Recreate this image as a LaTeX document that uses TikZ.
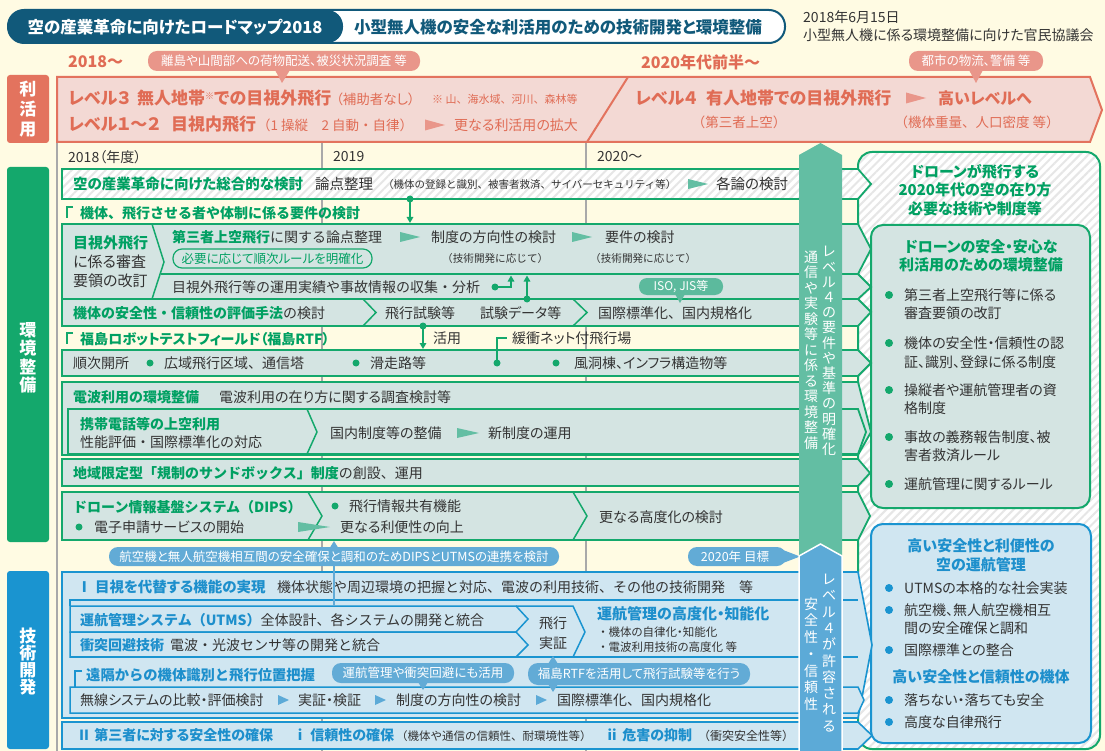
\documentclass[tikz,border=0pt]{standalone}
\usepackage{fontspec}
\setmainfont{Noto Sans CJK JP}[RawFeature={+palt}]
\newfontfamily\np{Noto Sans CJK JP}
\usetikzlibrary{arrows.meta,patterns.meta}
\definecolor{cream}{HTML}{FFFBE3}
\definecolor{titleblue}{HTML}{11597A}
\definecolor{salmon}{HTML}{E3735E}
\definecolor{salmontext}{HTML}{E06C55}
\definecolor{pinkfill}{HTML}{F3D9D4}
\definecolor{bubsalmon}{HTML}{E9968A}
\definecolor{grn}{HTML}{14A86C}
\definecolor{grntext}{HTML}{00A062}
\definecolor{rowfill}{HTML}{D4E4E2}
\definecolor{tealcol}{HTML}{63BEA3}
\definecolor{isoteal}{HTML}{5CBA9D}
\definecolor{dk}{HTML}{333333}
\definecolor{gline}{HTML}{A9A9A9}
\definecolor{blu}{HTML}{1A94D0}
\definecolor{bluetext}{HTML}{1D8FCC}
\definecolor{rowblue}{HTML}{D0E6F1}
\definecolor{bluecol}{HTML}{5CAAD7}
\definecolor{bluebub}{HTML}{62ABD6}
\definecolor{hatch}{HTML}{E6E6E6}
\newcommand\fsz[1]{\fontsize{#1}{#1}\selectfont}
\begin{document}
\begin{tikzpicture}[x=1pt,y=-1pt,
 txt/.style={anchor=west, inner sep=0pt, text=dk, font=\fsz{14}},
 gbold/.style={txt, text=grntext, font=\bfseries\fsz{14}},
 bbold/.style={txt, text=bluetext, font=\bfseries\fsz{14}},
 small/.style={txt, font=\fsz{11}},
 salm/.style={txt, text=salmontext, font=\fsz{13.5}},
 salmb/.style={txt, text=salmontext, font=\bfseries\fsz{17}},
 bubtxt/.style={inner sep=0pt, text=white, font=\fsz{12.5}},
 grnrow/.style={draw=grn, line width=1.8pt, fill=rowfill},
 bluerow/.style={draw=blu, line width=1.6pt, fill=rowblue},
 gsep/.style={draw=grn, line width=1.5pt},
 bsep/.style={draw=blu, line width=1.5pt},
 garr/.style={draw=grn, line width=1.5pt, -{Triangle[length=6pt,width=6.5pt]}},
 vtext/.style={align=center, inner sep=0pt, text=white},
 hatchfill/.style={preaction={fill=white}, pattern={Lines[angle=45,distance=6pt,line width=2pt]}, pattern color=hatch},
 lbl/.style={align=center, inner sep=0pt, text=white, font={\bfseries\fontsize{17}{20}\selectfont}}
]
\path[use as bounding box, fill=cream] (0,0) rectangle (1105,751);

% ---------- title ----------
\draw[titleblue, line width=2pt, fill=white, rounded corners=16pt] (8,10) rectangle (785,43);
\fill[titleblue, rounded corners=16pt] (8,10) rectangle (343,43);
\node[inner sep=0pt, text=white, font=\bfseries\fsz{16.5}] (ttl) at (175,27) {空の産業革命に向けたロードマップ2018};
\node[inner sep=0pt, text=titleblue, font=\bfseries\fsz{16.5}] (ttl2) at (558,27) {小型無人機の安全な利活用のための技術開発と環境整備};
\node[txt] (date) at (803,17) {2018年6月15日};
\node[txt] (org) at (803,35) {小型無人機に係る環境整備に向けた官民協議会};

% ---------- gray year lines ----------
\draw[gline, line width=1.2pt] (57,143) -- (57,751);
\draw[gline, line width=1.2pt] (322,143) -- (322,751);
\draw[gline, line width=1.2pt] (586,143) -- (586,751);

% ---------- 利活用 band ----------
\fill[salmon, rounded corners=3pt] (7,75) rectangle (49,143);
\node[lbl] (lblR) at (28,109) {利\\活\\用};
\draw[salmon, line width=2pt, fill=pinkfill] (57,77) -- (1090,77) -- (1102,110) -- (1090,142) -- (57,142) -- cycle;
\draw[salmon, line width=2pt] (628,77) -- (587,142);
\node[txt, text=salmontext, font=\bfseries\fsz{16}] (y2018) at (68,62) {2018～};
\node[txt, text=salmontext, font=\bfseries\fsz{16}] (y2020s) at (641,62) {2020年代前半～};
\fill[bubsalmon, rounded corners=9pt] (148,51) rectangle (420,71);
\fill[bubsalmon] (275,70) -- (290,70) -- (282,83) -- cycle;
\node[bubtxt] (bub1) at (284,61) {離島や山間部への荷物配送、被災状況調査 等};
\fill[bubsalmon, rounded corners=9pt] (909,51) rectangle (1043,71);
\fill[bubsalmon] (969,70) -- (983,70) -- (976,83) -- cycle;
\node[bubtxt] (bub2) at (976,61) {都市の物流、警備 等};
\node[salmb] (l3a) at (68,98) {レベル３};
\node[salmb] (l3b) at (137,98) {無人地帯\raisebox{5pt}{\fsz{9}※}での目視外飛行};
\node[salm] (l3c) at (336,99) {（補助者なし）};
\node[salm, font=\np\fsz{11}] (l3d) at (432,99) {※ 山、海水域、河川、森林等};
\node[salmb] (l12a) at (68,124) {レベル１～２};
\node[salmb] (l12b) at (171,124) {目視内飛行};
\node[salm, font=\np\fsz{13.5}] (l12c) at (257,125) {（1 操縦　2 自動・自律）};
\fill[bubsalmon] (425,119.5) -- (445,125) -- (425,130.5) -- cycle;
\node[salm, font=\fsz{14}] (l12d) at (454,125) {更なる利活用の拡大};
\node[salmb] (l4a) at (635,98) {レベル４};
\node[salmb] (l4b) at (706,98) {有人地帯での目視外飛行};
\fill[bubsalmon] (906,92.5) -- (926,98) -- (906,103.5) -- cycle;
\node[salmb, font=\bfseries\fsz{16}] (l4c) at (938,98) {高いレベルへ};
\node[salm, anchor=center, font=\np\fsz{13.5}] (l4d) at (739,122) {（第三者上空）};
\node[salm, anchor=center, font=\np\fsz{13.5}] (l4e) at (977,122) {（機体重量、人口密度 等）};

% ---------- year labels ----------
\node[txt] (yr1) at (68,157) {2018（年度）};
\node[txt] (yr2) at (333,157) {2019};
\node[txt] (yr3) at (597,157) {2020～};

% ---------- right panel ----------
\draw[grn, line width=2pt, rounded corners=14pt, hatchfill] (858,152) rectangle (1100,749);
\node[align=center, inner sep=0pt, text=grntext, font={\bfseries\fontsize{15}{18.5}\selectfont}] (goal) at (975,190) {ドローンが飛行する\\2020年代の空の在り方\\必要な技術や制度等};
\draw[grn, line width=2pt, rounded corners=12pt, fill=rowfill] (871,225) rectangle (1090,508);
\node[align=center, inner sep=0pt, text=grntext, font={\bfseries\fontsize{15}{18}\selectfont}] (envT) at (981,256) {ドローンの安全・安心な\\利活用のための環境整備};
\foreach \yy in {295,343,390,437,484} {\fill[grn] (889,\yy) circle (4pt);}
\node[txt] (e1a) at (904,295) {第三者上空飛行等に係る};
\node[txt] (e1b) at (904,313) {審査要領の改訂};
\node[txt] (e2a) at (904,343) {機体の安全性・信頼性の認};
\node[txt] (e2b) at (904,362) {証、識別、登録に係る制度};
\node[txt] (e3a) at (904,390) {操縦者や運航管理者の資};
\node[txt] (e3b) at (904,408) {格制度};
\node[txt] (e4a) at (904,437) {事故の義務報告制度、被};
\node[txt] (e4b) at (904,455) {害者救済ルール};
\node[txt] (e5a) at (904,484) {運航管理に関するルール};
\draw[blu, line width=2pt, rounded corners=12pt, fill=rowblue] (871,524) rectangle (1091,743);
\node[align=center, inner sep=0pt, text=bluetext, font={\bfseries\fontsize{15}{19}\selectfont}] (techT) at (981,555) {高い安全性と利便性の\\空の運航管理};
\foreach \yy in {588,610,650,700,722} {\fill[blu] (889,\yy) circle (4pt);}
\node[txt] (t1) at (904,588) {UTMSの本格的な社会実装};
\node[txt] (t2a) at (904,610) {航空機、無人航空機相互};
\node[txt] (t2b) at (904,628) {間の安全確保と調和};
\node[txt] (t3) at (904,650) {国際標準との整合};
\node[inner sep=0pt, text=bluetext, font=\bfseries\fsz{15}] (techT2) at (981,677) {高い安全性と信頼性の機体};
\node[txt] (t4) at (904,700) {落ちない・落ちても安全};
\node[txt] (t5) at (904,722) {高度な自律飛行};

% ---------- 環境整備 label ----------
\fill[grn, rounded corners=3pt] (7,167) rectangle (49,542);
\node[lbl, font={\bfseries\fontsize{17}{18.5}\selectfont}] (lblE) at (28,358) {環\\境\\整\\備};

% row A
\draw[grn, line width=1.8pt, hatchfill] (62,169) -- (858,169) -- (871,184) -- (858,199) -- (62,199) -- cycle;
\node[gbold, font=\bfseries\fsz{14.5}] (rA1) at (73,184) {空の産業革命に向けた総合的な検討};
\node[txt, font=\fsz{14.5}] (rA2) at (315,184) {論点整理};
\node[small, font=\np\fsz{10.5}] (rA3) at (383,185) {（機体の登録と識別、被害者救済、サイバーセキュリティ等）};
\fill[tealcol] (688,179) -- (708,184) -- (688,189) -- cycle;
\node[txt, font=\fsz{14.5}] (rA4) at (716,184) {各論の検討};

% header 1
\draw[gsep, line width=1.2pt] (73,207) -- (67,207) -- (67,218);
\node[gbold, font=\np\bfseries\fsz{14}] (h1) at (80,213) {機体、飛行させる者や体制に係る要件の検討};

% row B
\draw[grnrow] (62,224) -- (858,224) -- (871,249) -- (858,274) -- (871,287) -- (858,299) -- (62,299) -- cycle;
\draw[gsep] (161,274) -- (858,274);
\draw[gsep] (152,224) -- (164,262) -- (152,299);
\node[gbold, font=\bfseries\fsz{15}] (bL1) at (73,243) {目視外飛行};
\node[txt, font=\fsz{15}] (bL2) at (73,262) {に係る審査};
\node[txt, font=\fsz{15}] (bL3) at (73,281) {要領の改訂};
\node[txt, font=\np\fsz{14}] (b1) at (172,237) {{\bfseries\color{grntext}第三者上空飛行}に関する論点整理};
\fill[tealcol] (400,232) -- (420,237) -- (400,242) -- cycle;
\node[txt] (b2) at (431,237) {制度の方向性の検討};
\node[small, font=\np\fsz{10.6}] (b2s) at (442,258) {（技術開発に応じて）};
\fill[tealcol] (572,232) -- (592,237) -- (572,242) -- cycle;
\node[txt] (b3) at (605,237) {要件の検討};
\node[small, font=\np\fsz{10.6}] (b3s) at (590,258) {（技術開発に応じて）};
\draw[grn, line width=1.2pt, rounded corners=9pt] (173,249) rectangle (372,268);
\node[inner sep=0pt, text=grntext, font=\fsz{12.5}] (pill) at (272.5,258.5) {必要に応じて順次ルールを明確化};
\node[txt, font=\np\fsz{14}] (b4) at (172,287) {目視外飛行等の運用実績や事故情報の収集・分析};

% row C
\draw[grnrow] (62,299) -- (858,299) -- (871,312) -- (858,326) -- (62,326) -- cycle;
\draw[gsep] (363,299) -- (376,312.5) -- (363,326);
\draw[gsep] (573,299) -- (587,312.5) -- (573,326);
\node[txt, font=\np\fsz{14}] (c1) at (73,313) {{\bfseries\color{grntext}機体の安全性・信頼性の評価手法}の検討};
\node[txt] (c2) at (385,313) {飛行試験等};
\node[txt] (c3) at (480,313) {試験データ等};
\node[txt, font=\np\fsz{14}] (c4) at (598,313) {国際標準化、国内規格化};
\fill[isoteal, rounded corners=8pt] (639,278) rectangle (723,295);
\fill[isoteal] (675,294) -- (685,294) -- (680,303) -- cycle;
\node[bubtxt, font=\fsz{12}] (iso) at (681,286.5) {ISO, JIS等};

% connectors in upper green block
\coordinate (dA) at (410,199); \coordinate (eA) at (410,223);
\fill[grn] (dA) circle (3.5pt); \draw[garr] (dA) -- (eA);
\coordinate (dB) at (495,287); \coordinate (eB) at (511,275.5);
\fill[grn] (dB) circle (3.5pt); \draw[garr] (dB) -- (511,287) -- (eB);
\coordinate (dC) at (527,299); \coordinate (eC) at (527,275.5);
\fill[grn] (dC) circle (3.5pt); \draw[garr] (dC) -- (eC);
\coordinate (dD) at (423,326); \coordinate (eD) at (423,349);
\fill[grn] (dD) circle (3.5pt); \draw[garr] (dD) -- (eD);
\node[txt] (katsuyo) at (433,338) {活用};

% header 2
\draw[gsep, line width=1.2pt] (73,333) -- (67,333) -- (67,344);
\node[gbold] (h2) at (80,339) {福島ロボットテストフィールド（福島RTF）};
\node[txt] (net) at (512,338) {緩衝ネット付飛行場};

% row D
\draw[grnrow] (62,350) -- (858,350) -- (871,363) -- (858,376) -- (62,376) -- cycle;
\node[txt] (d1) at (73,363) {順次開所};
\node[txt, font=\np\fsz{14}] (d2) at (164,363) {広域飛行区域、通信塔};
\node[txt] (d3) at (370,363) {滑走路等};
\node[txt] (d4) at (574,363) {風洞棟、インフラ構造物等};
\foreach \xx in {150,356,556} {\fill[grn] (\xx,363) circle (3.5pt);}
\coordinate (dNet) at (497,363);
\fill[grn] (dNet) circle (3.5pt);
\draw[gsep, line width=1.2pt] (dNet) -- (497,338) -- (507,338);

% row E
\draw[grnrow] (62,382) -- (858,382) -- (871,432) -- (858,455) -- (62,455) -- cycle;
\node[gbold] (e1) at (73,397) {電波利用の環境整備};
\node[txt] (e2) at (219,397) {電波利用の在り方に関する調査検討等};
\draw[grnrow] (68,409) -- (858,409) -- (866,432) -- (858,454) -- (68,454) -- cycle;
\draw[gsep] (307,409) -- (317,432) -- (307,454);
\node[gbold] (e3) at (80,424) {携帯電話等の上空利用};
\node[txt, font=\np\fsz{14}] (e4) at (80,442) {性能評価・国際標準化の対応};
\node[txt] (e5) at (330,433) {国内制度等の整備};
\fill[tealcol] (457,428) -- (479,433) -- (457,438) -- cycle;
\node[txt] (e6) at (488,433) {新制度の運用};

% row F
\draw[grnrow] (62,459) -- (858,459) -- (870,473) -- (858,486) -- (62,486) -- cycle;
\node[txt, font=\np\fsz{14}] (f1) at (73,473) {{\bfseries\color{grntext}地域限定型「規制のサンドボックス」制度}の創設、運用};

% row G
\draw[grnrow] (62,492) -- (858,492) -- (870,516) -- (858,540) -- (62,540) -- cycle;
\draw[gsep] (308,492) -- (322,516) -- (308,540);
\draw[gsep] (573,492) -- (587,516) -- (573,540);
\node[gbold, font=\np\bfseries\fsz{14}] (g1) at (73,507) {ドローン情報基盤システム（DIPS）};
\fill[grn] (79,527) circle (3.5pt);
\node[txt] (g2) at (94,527) {電子申請サービスの開始};
\fill[tealcol] (298,522) -- (330,527) -- (298,532) -- cycle;
\fill[grn] (335,506) circle (3.5pt);
\node[txt] (g3) at (349,506) {飛行情報共有機能};
\node[txt] (g4) at (340,527) {更なる利便性の向上};
\node[txt] (g5) at (599,517) {更なる高度化の検討};

% ---------- 技術開発 ----------
\fill[blu, rounded corners=3pt] (7,571) rectangle (49,749);
\node[lbl, font={\bfseries\fontsize{17}{17}\selectfont}] (lblT) at (28,662) {技\\術\\開\\発};

\draw[bluerow] (62,572) -- (858,572) -- (872,645) -- (858,718) -- (62,718) -- cycle;
\node[bbold, font=\bfseries\fsz{14.5}] (i1) at (77,587) {Ⅰ 目視を代替する機能の実現};
\node[txt, font=\np\fsz{14}] (i2) at (277,587) {機体状態や周辺環境の把握と対応、電波の利用技術、その他の技術開発　等};
\draw[bsep] (70,606) -- (70,600) -- (858,600);
\draw[bluerow, line width=1.5pt] (70,606) -- (516,606) -- (528,619) -- (516,632) -- (70,632) -- cycle;
\draw[bluerow, line width=1.5pt] (70,632) -- (516,632) -- (528,645) -- (516,657) -- (70,657) -- cycle;
\draw[bsep] (516,606) -- (573,606) -- (585,632) -- (573,657);
\draw[bsep] (70,657) -- (858,657);
\node[txt, font=\np\fsz{14}] (u1) at (80,620) {{\bfseries\color{bluetext}運航管理システム（UTMS）}全体設計、各システムの開発と統合};
\node[txt, font=\np\fsz{14}] (u2) at (80,645) {{\bfseries\color{bluetext}衝突回避技術}\hspace{6pt}電波・光波センサ等の開発と統合};
\node[align=center, inner sep=0pt, text=dk, font={\fontsize{14}{20}\selectfont}] (jissho) at (553,633) {飛行\\実証};
\node[bbold, font=\bfseries\fsz{15}] (adv) at (597,614) {運航管理の高度化・知能化};
\node[small, font=\fsz{11.5}] (adv1) at (600,632) {・ 機体の自律化・知能化};
\node[small, font=\fsz{11.5}] (adv2) at (600,647) {・ 電波利用技術の高度化 等};

\draw[bsep, line width=1.2pt] (82,671) -- (75,671) -- (75,687);
\node[bbold, font=\np\bfseries\fsz{14.3}] (rem) at (86,675) {遠隔からの機体識別と飛行位置把握};
\draw[bluerow, line width=1.5pt] (70,687) -- (858,687) -- (864,700) -- (858,713) -- (70,713) -- cycle;
\node[txt] (w1) at (80,700) {無線システムの比較・評価検討};
\fill[bluecol] (278,695) -- (289,700) -- (278,705) -- cycle;
\node[txt] (w2) at (298,700) {実証・検証};
\fill[bluecol] (375,695) -- (386,700) -- (375,705) -- cycle;
\node[txt] (w3) at (396,700) {制度の方向性の検討};
\fill[bluecol] (536,695) -- (547,700) -- (536,705) -- cycle;
\node[txt, font=\np\fsz{14}] (w4) at (557,700) {国際標準化、国内規格化};

\fill[bluebub, rounded corners=9pt] (332,663) rectangle (514,683);
\fill[bluebub] (418,682) -- (428,682) -- (423,690) -- cycle;
\node[bubtxt] (bubU) at (423,673) {運航管理や衝突回避にも活用};
\fill[bluebub, rounded corners=10pt] (528,663) rectangle (750,685);
\fill[bluebub] (548,664) -- (558,664) -- (553,656) -- cycle;
\fill[bluebub] (548,684) -- (558,684) -- (553,692) -- cycle;
\node[bubtxt] (bubF) at (639,674) {福島RTFを活用して飛行試験等を行う};

\draw[bluerow] (62,722) -- (858,722) -- (872,735.5) -- (858,749) -- (62,749) -- cycle;
\node[bbold] (ii1) at (77,735) {Ⅱ 第三者に対する安全性の確保};
\node[bbold] (ii2) at (293,735) {ⅰ 信頼性の確保};
\node[small, font=\np\fsz{11.5}] (ii3) at (396,736) {（機体や通信の信頼性、耐環境性等）};
\node[bbold] (ii4) at (605,735) {ⅱ 危害の抑制};
\node[small, font=\np\fsz{12}] (ii5) at (698,736) {（衝突安全性等）};

% DIPS-UTMS link
\coordinate (lkB) at (334,606); \coordinate (lkT) at (334,541);
\draw[bluebub, line width=1.5pt, -{Triangle[length=6pt,width=7pt]}] (lkB) -- (lkT);
\fill[bluebub, rounded corners=9pt] (109,547) rectangle (559,566);
\node[bubtxt] (bubD) at (334,556.5) {航空機と無人航空機相互間の安全確保と調和のためDIPSとUTMSの連携を検討};
\fill[bluebub, rounded corners=9pt] (688,547) rectangle (786,566);
\fill[bluebub] (783,550) -- (800,556.5) -- (783,563) -- cycle;
\node[bubtxt] (goal20) at (735,556.5) {2020年 目標};

% ---------- central columns ----------
\fill[tealcol] (799,155) -- (820.5,143) -- (842,155) -- (842,558) -- (799,558) -- cycle;
\node[vtext, font={\fontsize{14}{15.2}\selectfont}] (tealR) at (829,351) {レ\\ベ\\ル\\４\\の\\要\\件\\や\\基\\準\\の\\明\\確\\化};
\node[vtext, font={\fontsize{14}{15.5}\selectfont}] (tealL) at (811,350) {通\\信\\や\\実\\験\\等\\に\\係\\る\\環\\境\\整\\備};
\draw[white, line width=1.5pt, fill=bluecol] (799,556) -- (820.5,544) -- (842,556) -- (842,760) -- (799,760) -- cycle;
\node[vtext, font={\fontsize{14}{16.3}\selectfont}] (blueR) at (829,653) {レ\\ベ\\ル\\４\\が\\許\\容\\さ\\れ\\る};
\node[vtext, font={\fontsize{14}{16.7}\selectfont}] (blueL) at (811,654) {安\\全\\性\\・\\信\\頼\\性};
\end{tikzpicture}
\end{document}
